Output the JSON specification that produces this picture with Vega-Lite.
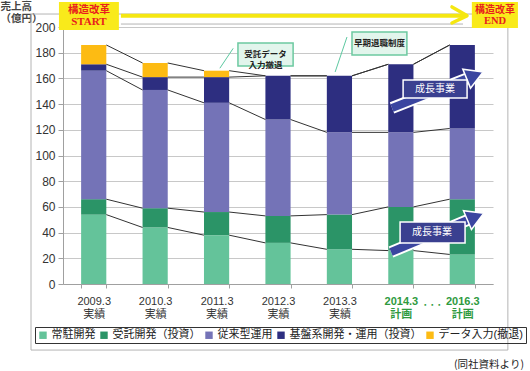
{
  "$schema": "https://vega.github.io/schema/vega-lite/v6.json",
  "width": 430,
  "height": 257,
  "autosize": "none",
  "padding": {"left": 63, "top": 27, "right": 37, "bottom": 87},
  "config": {
    "font": "Liberation Sans, Noto Sans CJK JP, sans-serif",
    "view": {"stroke": null}
  },
  "resolve": {"axis": {"x": "independent", "y": "independent"}},
  "datasets": {
    "one": [{"k": 1}],
    "bars": [
      {"year": "2009.3", "yi": 0, "series": "常駐開発", "ord": 1, "value": 54},
      {"year": "2009.3", "yi": 0, "series": "受託開発（投資）", "ord": 2, "value": 12},
      {"year": "2009.3", "yi": 0, "series": "従来型運用", "ord": 3, "value": 100},
      {"year": "2009.3", "yi": 0, "series": "基盤系開発・運用（投資）", "ord": 4, "value": 5},
      {"year": "2009.3", "yi": 0, "series": "データ入力(撤退)", "ord": 5, "value": 15},
      {"year": "2010.3", "yi": 1, "series": "常駐開発", "ord": 1, "value": 44},
      {"year": "2010.3", "yi": 1, "series": "受託開発（投資）", "ord": 2, "value": 15},
      {"year": "2010.3", "yi": 1, "series": "従来型運用", "ord": 3, "value": 92},
      {"year": "2010.3", "yi": 1, "series": "基盤系開発・運用（投資）", "ord": 4, "value": 10},
      {"year": "2010.3", "yi": 1, "series": "データ入力(撤退)", "ord": 5, "value": 11},
      {"year": "2011.3", "yi": 2, "series": "常駐開発", "ord": 1, "value": 38},
      {"year": "2011.3", "yi": 2, "series": "受託開発（投資）", "ord": 2, "value": 18},
      {"year": "2011.3", "yi": 2, "series": "従来型運用", "ord": 3, "value": 85},
      {"year": "2011.3", "yi": 2, "series": "基盤系開発・運用（投資）", "ord": 4, "value": 20},
      {"year": "2011.3", "yi": 2, "series": "データ入力(撤退)", "ord": 5, "value": 5},
      {"year": "2012.3", "yi": 3, "series": "常駐開発", "ord": 1, "value": 32},
      {"year": "2012.3", "yi": 3, "series": "受託開発（投資）", "ord": 2, "value": 21},
      {"year": "2012.3", "yi": 3, "series": "従来型運用", "ord": 3, "value": 75},
      {"year": "2012.3", "yi": 3, "series": "基盤系開発・運用（投資）", "ord": 4, "value": 34},
      {"year": "2012.3", "yi": 3, "series": "データ入力(撤退)", "ord": 5, "value": 0},
      {"year": "2013.3", "yi": 4, "series": "常駐開発", "ord": 1, "value": 27},
      {"year": "2013.3", "yi": 4, "series": "受託開発（投資）", "ord": 2, "value": 27},
      {"year": "2013.3", "yi": 4, "series": "従来型運用", "ord": 3, "value": 64},
      {"year": "2013.3", "yi": 4, "series": "基盤系開発・運用（投資）", "ord": 4, "value": 44},
      {"year": "2013.3", "yi": 4, "series": "データ入力(撤退)", "ord": 5, "value": 0},
      {"year": "2014.3", "yi": 5, "series": "常駐開発", "ord": 1, "value": 26},
      {"year": "2014.3", "yi": 5, "series": "受託開発（投資）", "ord": 2, "value": 34},
      {"year": "2014.3", "yi": 5, "series": "従来型運用", "ord": 3, "value": 58},
      {"year": "2014.3", "yi": 5, "series": "基盤系開発・運用（投資）", "ord": 4, "value": 53},
      {"year": "2014.3", "yi": 5, "series": "データ入力(撤退)", "ord": 5, "value": 0},
      {"year": "2016.3", "yi": 6, "series": "常駐開発", "ord": 1, "value": 23},
      {"year": "2016.3", "yi": 6, "series": "受託開発（投資）", "ord": 2, "value": 43},
      {"year": "2016.3", "yi": 6, "series": "従来型運用", "ord": 3, "value": 55},
      {"year": "2016.3", "yi": 6, "series": "基盤系開発・運用（投資）", "ord": 4, "value": 65},
      {"year": "2016.3", "yi": 6, "series": "データ入力(撤退)", "ord": 5, "value": 0}
    ]
  },
  "layer": [
    {
      "data": {"name": "bars"},
      "mark": {"type": "bar"},
      "encoding": {
        "x": {
          "field": "year", "type": "nominal",
          "scale": {"domain": ["2009.3","2010.3","2011.3","2012.3","2013.3","2014.3","2016.3"], "paddingInner": 0.59, "paddingOuter": 0.295},
          "axis": {
            "title": null, "labelAngle": 0, "grid": false, "tickBand": "extent", "orient": "bottom",
            "domainColor": "#A0A0A0", "tickColor": "#A0A0A0", "tickSize": 4,
            "labelPadding": 7, "labelFontSize": 11, "labelLineHeight": 13,
            "labelExpr": "(datum.label == null || datum.label == '') ? '' : [datum.label, (datum.label == '2014.3' || datum.label == '2016.3') ? '計画' : '実績']",
            "labelColor": {"condition": {"test": "datum.value == '2014.3' || datum.value == '2016.3'", "value": "#2E9A3E"}, "value": "#333333"},
            "labelFontWeight": {"condition": {"test": "datum.value == '2014.3' || datum.value == '2016.3'", "value": "bold"}, "value": "normal"}
          }
        },
        "y": {
          "field": "value", "type": "quantitative", "aggregate": "sum",
          "scale": {"domain": [0, 200], "nice": false},
          "axis": {
            "title": ["売上高", "（億円）"], "titleAngle": 0, "titleAlign": "left", "titleBaseline": "top", "orient": "left",
            "titleX": -63, "titleY": -26, "titleFontSize": 10.5, "titleFontWeight": "bold", "titleColor": "#444444", "titleLineHeight": 12,
            "values": [0,20,40,60,80,100,120,140,160,180,200],
            "tickSize": 5, "tickColor": "#A0A0A0", "domainColor": "#A0A0A0",
            "gridColor": "#C8C8C8", "labelFontSize": 12, "labelColor": "#333333", "labelPadding": 3
          }
        },
        "color": {
          "field": "series", "type": "nominal",
          "scale": {
            "domain": ["常駐開発","受託開発（投資）","従来型運用","基盤系開発・運用（投資）","データ入力(撤退)"],
            "range": ["#64C39A","#2B9467","#7473B7","#2D2E80","#FDBB13"]
          },
          "legend": {
            "title": null, "orient": "none", "legendX": -28, "legendY": 300,
            "direction": "horizontal", "columns": 5, "columnPadding": 3, "padding": 2.5,
            "strokeColor": "#333333", "symbolType": "square", "symbolSize": 55, "symbolStrokeWidth": 0,
            "labelFontSize": 11, "labelOffset": 3, "labelColor": "#222222", "labelLimit": 0
          }
        },
        "order": {"field": "ord", "type": "quantitative"}
      }
    },
    {
      "data": {"name": "bars"},
      "transform": [
        {"stack": "value", "groupby": ["year"], "sort": [{"field": "ord", "order": "ascending"}], "as": ["s0", "s1"]},
        {"window": [{"op": "lead", "field": "s1", "as": "n1"}, {"op": "lead", "field": "year", "as": "ny"}], "groupby": ["series"], "sort": [{"field": "yi", "order": "ascending"}]},
        {"filter": "datum.ny != null"}
      ],
      "mark": {"type": "rule", "color": "#333333", "strokeWidth": 1},
      "encoding": {
        "x": {"field": "year", "type": "nominal", "bandPosition": 1, "axis": null},
        "x2": {"field": "ny", "bandPosition": 0},
        "y": {"field": "s1", "type": "quantitative", "axis": null},
        "y2": {"field": "n1"}
      }
    },
    {
      "data": {"name": "one"},
      "layer": [
        {
          "mark": {"type": "rect", "fill": "transparent", "stroke": "#B4B4B4", "strokeWidth": 1},
          "encoding": {
            "x": {"datum": "2009.3", "bandPosition": -1.99, "axis": null},
            "x2": {"datum": "2016.3", "bandPosition": 2.31},
            "y": {"datum": 210.1, "axis": null},
            "y2": {"datum": -51.4}
          }
        },
        {
          "mark": {"type": "rule", "color": "#B4B4B4", "strokeWidth": 1},
          "encoding": {"x": {"datum": "2009.3", "bandPosition": 1.58, "axis": null}, "x2": {"datum": "2016.3", "bandPosition": 0.53}, "y": {"datum": 202.3, "axis": null}}
        },
        {
          "mark": {"type": "rule", "color": "#F5E711", "strokeWidth": 4},
          "encoding": {"x": {"datum": "2009.3", "bandPosition": 1.58, "axis": null}, "x2": {"datum": "2016.3", "bandPosition": 0.65}, "y": {"datum": 208.8, "axis": null}}
        },
        {
          "mark": {"type": "rule", "color": "#F5E711", "strokeWidth": 3.5, "strokeCap": "round"},
          "encoding": {"x": {"datum": "2016.3", "bandPosition": 0.09, "axis": null}, "x2": {"datum": "2016.3", "bandPosition": 0.68}, "y": {"datum": 215.6, "axis": null}, "y2": {"datum": 209.0}}
        },
        {
          "mark": {"type": "rule", "color": "#F5E711", "strokeWidth": 3.5, "strokeCap": "round"},
          "encoding": {"x": {"datum": "2016.3", "bandPosition": 0.09, "axis": null}, "x2": {"datum": "2016.3", "bandPosition": 0.68}, "y": {"datum": 203.1, "axis": null}, "y2": {"datum": 208.6}}
        },
        {
          "mark": {"type": "rect", "fill": "#F9EA1B"},
          "encoding": {"x": {"datum": "2009.3", "bandPosition": -0.88, "axis": null}, "x2": {"datum": "2009.3", "bandPosition": 1.5}, "y": {"datum": 219.5, "axis": null}, "y2": {"datum": 197.7}}
        },
        {
          "mark": {"type": "text", "text": "構造改革", "color": "#E8211D", "fontSize": 10.5, "fontWeight": "bold", "font": "Noto Sans CJK JP"},
          "encoding": {"x": {"datum": "2009.3", "bandPosition": 0.31, "axis": null}, "y": {"datum": 213.2, "axis": null}}
        },
        {
          "mark": {"type": "text", "text": "START", "color": "#E8211D", "fontSize": 11, "fontWeight": "bold", "font": "Liberation Serif"},
          "encoding": {"x": {"datum": "2009.3", "bandPosition": 0.31, "axis": null}, "y": {"datum": 204.0, "axis": null}}
        },
        {
          "mark": {"type": "rect", "fill": "#F9EA1B"},
          "encoding": {"x": {"datum": "2016.3", "bandPosition": 0.88, "axis": null}, "x2": {"datum": "2016.3", "bandPosition": 2.71}, "y": {"datum": 219.5, "axis": null}, "y2": {"datum": 199.2}}
        },
        {
          "mark": {"type": "text", "text": "構造改革", "color": "#E8211D", "fontSize": 10, "fontWeight": "bold", "font": "Noto Sans CJK JP"},
          "encoding": {"x": {"datum": "2016.3", "bandPosition": 1.8, "axis": null}, "y": {"datum": 213.6, "axis": null}}
        },
        {
          "mark": {"type": "text", "text": "END", "color": "#E8211D", "fontSize": 10.5, "fontWeight": "bold", "font": "Liberation Serif"},
          "encoding": {"x": {"datum": "2016.3", "bandPosition": 1.8, "axis": null}, "y": {"datum": 204.3, "axis": null}}
        },
        {
          "mark": {"type": "rule", "color": "#5CC8A0", "strokeWidth": 1},
          "encoding": {"x": {"datum": "2011.3", "bandPosition": 1.16, "axis": null}, "x2": {"datum": "2011.3", "bandPosition": 0.63}, "y": {"datum": 183.4, "axis": null}, "y2": {"datum": 167.9}}
        },
        {
          "mark": {"type": "rect", "fill": "#E2F5EC", "stroke": "#6CC9A0", "strokeWidth": 1.5},
          "encoding": {"x": {"datum": "2012.3", "bandPosition": -1.09, "axis": null}, "x2": {"datum": "2012.3", "bandPosition": 1.1}, "y": {"datum": 187.5, "axis": null}, "y2": {"datum": 169.6}}
        },
        {
          "mark": {"type": "text", "text": "受託データ\n入力撤退", "lineBreak": "\n", "lineHeight": 11, "color": "#222222", "fontSize": 8.5, "fontWeight": "bold", "font": "Noto Sans CJK JP"},
          "encoding": {"x": {"datum": "2012.3", "bandPosition": 0.0, "axis": null}, "y": {"datum": 178.6, "axis": null}}
        },
        {
          "mark": {"type": "rule", "color": "#5CC8A0", "strokeWidth": 1},
          "encoding": {"x": {"datum": "2013.3", "bandPosition": 0.8, "axis": null}, "x2": {"datum": "2013.3", "bandPosition": 0.33}, "y": {"datum": 192.2, "axis": null}, "y2": {"datum": 165}}
        },
        {
          "mark": {"type": "rect", "fill": "#E2F5EC", "stroke": "#6CC9A0", "strokeWidth": 1.5},
          "encoding": {"x": {"datum": "2014.3", "bandPosition": -1.44, "axis": null}, "x2": {"datum": "2014.3", "bandPosition": 0.74}, "y": {"datum": 196.1, "axis": null}, "y2": {"datum": 178.2}}
        },
        {
          "mark": {"type": "text", "text": "早期退職制度", "color": "#222222", "fontSize": 8.5, "fontWeight": "bold", "font": "Noto Sans CJK JP"},
          "encoding": {"x": {"datum": "2014.3", "bandPosition": -0.35, "axis": null}, "y": {"datum": 187.2, "axis": null}}
        },
        {
          "mark": {"type": "rule", "color": "white", "strokeWidth": 12},
          "encoding": {"x": {"datum": "2016.3", "bandPosition": -2.29, "axis": null}, "x2": {"datum": "2016.3", "bandPosition": 0.73}, "y": {"datum": 137.0, "axis": null}, "y2": {"datum": 160.3}}
        },
        {
          "mark": {"type": "rule", "color": "#3B46A0", "strokeWidth": 8},
          "encoding": {"x": {"datum": "2016.3", "bandPosition": -2.29, "axis": null}, "x2": {"datum": "2016.3", "bandPosition": 0.73}, "y": {"datum": 137.0, "axis": null}, "y2": {"datum": 160.3}}
        },
        {
          "mark": {"type": "point", "shape": "triangle-up", "size": 420, "angle": 68, "filled": true, "fill": "#3B46A0", "stroke": "white", "strokeWidth": 1.5, "opacity": 1},
          "encoding": {"x": {"datum": "2016.3", "bandPosition": 1.0, "axis": null}, "y": {"datum": 162.4, "axis": null}}
        },
        {
          "mark": {"type": "rect", "fill": "#3A4090", "stroke": "white", "strokeWidth": 1.5},
          "encoding": {"x": {"datum": "2016.3", "bandPosition": -1.85, "axis": null}, "x2": {"datum": "2016.3", "bandPosition": 0.69}, "y": {"datum": 158.8, "axis": null}, "y2": {"datum": 144.7}}
        },
        {
          "mark": {"type": "text", "text": "成長事業", "color": "white", "fontSize": 10, "font": "Noto Sans CJK JP"},
          "encoding": {"x": {"datum": "2016.3", "bandPosition": -0.58, "axis": null}, "y": {"datum": 151.8, "axis": null}}
        },
        {
          "mark": {"type": "rule", "color": "white", "strokeWidth": 12},
          "encoding": {"x": {"datum": "2016.3", "bandPosition": -2.33, "axis": null}, "x2": {"datum": "2016.3", "bandPosition": 0.81}, "y": {"datum": 24.9, "axis": null}, "y2": {"datum": 50.6}}
        },
        {
          "mark": {"type": "rule", "color": "#3B46A0", "strokeWidth": 8},
          "encoding": {"x": {"datum": "2016.3", "bandPosition": -2.33, "axis": null}, "x2": {"datum": "2016.3", "bandPosition": 0.81}, "y": {"datum": 24.9, "axis": null}, "y2": {"datum": 50.6}}
        },
        {
          "mark": {"type": "point", "shape": "triangle-up", "size": 420, "angle": 67, "filled": true, "fill": "#3B46A0", "stroke": "white", "strokeWidth": 1.5, "opacity": 1},
          "encoding": {"x": {"datum": "2016.3", "bandPosition": 1.03, "axis": null}, "y": {"datum": 52.4, "axis": null}}
        },
        {
          "mark": {"type": "rect", "fill": "#3A4090", "stroke": "white", "strokeWidth": 1.5},
          "encoding": {"x": {"datum": "2016.3", "bandPosition": -1.97, "axis": null}, "x2": {"datum": "2016.3", "bandPosition": 0.61}, "y": {"datum": 48.2, "axis": null}, "y2": {"datum": 31.9}}
        },
        {
          "mark": {"type": "text", "text": "成長事業", "color": "white", "fontSize": 10, "font": "Noto Sans CJK JP"},
          "encoding": {"x": {"datum": "2016.3", "bandPosition": -0.7, "axis": null}, "y": {"datum": 40.1, "axis": null}}
        },
        {
          "mark": {"type": "text", "text": "・・・", "color": "#2E9A3E", "fontSize": 7, "fontWeight": "bold", "font": "Noto Sans CJK JP"},
          "encoding": {"x": {"datum": "2014.3", "bandPosition": 1.75, "axis": null}, "y": {"datum": -16.3, "axis": null}}
        },
        {
          "mark": {"type": "text", "text": "(同社資料より)", "color": "#222222", "fontSize": 10.5, "font": "Noto Sans CJK JP"},
          "encoding": {"x": {"datum": "2016.3", "bandPosition": 1.56, "axis": null}, "y": {"datum": -63, "axis": null}}
        }
      ]
    }
  ]
}
